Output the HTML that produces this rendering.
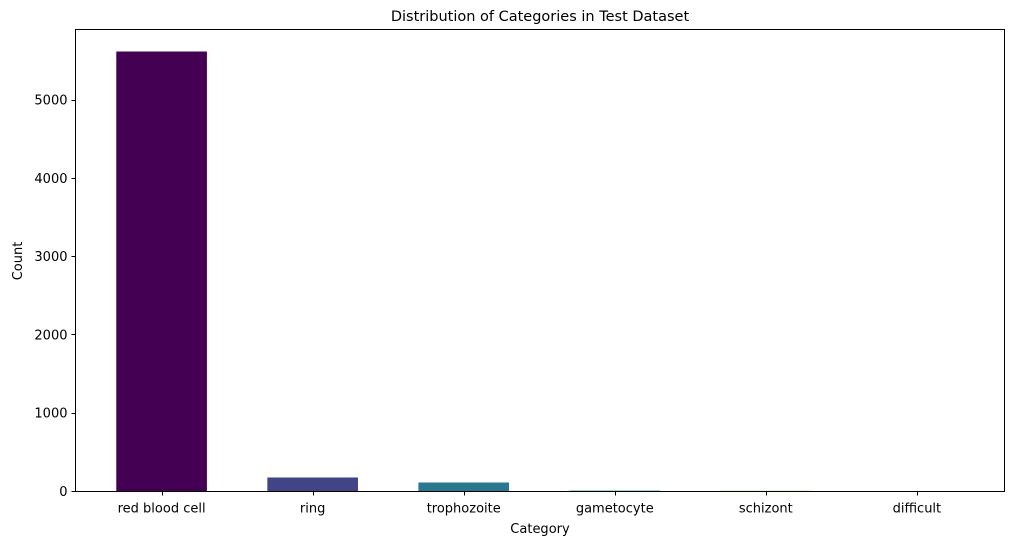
<!DOCTYPE html>
<html><head><meta charset="utf-8"><style>
body{margin:0;background:#fff;}
svg text{font-family:"DejaVu Sans","Liberation Sans",sans-serif;font-size:13px;fill:#000;}
</style></head><body>
<svg id="chart" width="1014" height="545" viewBox="0 0 1014 545" xmlns="http://www.w3.org/2000/svg">
<text x="540" y="21" text-anchor="middle" style="font-size:14.5px">Distribution of Categories in Test Dataset</text>
<g id="bars"></g>
<g id="axes"></g>
<text x="540" y="533" text-anchor="middle">Category</text>
<text transform="translate(22,261) rotate(-90)" text-anchor="middle">Count</text>
</svg>
<script>
const categories = ["red blood cell","ring","trophozoite","gametocyte","schizont","difficult"];
const counts = [5622,179,115,12,9,6];
const colors = ["#440154","#414487","#2a788e","#22a884","#7ad151","#fde725"];
const yTicks = [0,1000,2000,3000,4000,5000];
const L=75.5,R=1004.5,T=29.5,B=491.5;
const xMin=-0.57,xMax=5.58,yMax=Math.max(...counts)*1.05;
const xs=v=>L+(v-xMin)/(xMax-xMin)*(R-L);
const ys=v=>B-v/yMax*(B-T);
const NS="http://www.w3.org/2000/svg";
const bars=document.getElementById('bars'),axes=document.getElementById('axes');
function mk(tag,attrs,parent){const e=document.createElementNS(NS,tag);for(const k in attrs)e.setAttribute(k,attrs[k]);parent.appendChild(e);return e;}
categories.forEach((c,i)=>{
  const x0=xs(i-0.3),x1=xs(i+0.3),y=ys(counts[i]);
  const r=mk('rect',{x:x0,y:y,width:x1-x0,height:B-y,fill:colors[i]},bars);
  
  
  const tx=Math.round(xs(i))+0.5;
  const t=mk('line',{x1:tx,x2:tx,y1:B,y2:B+4,stroke:'#000','stroke-width':1},axes);
  
  
  const l=mk('text',{x:xs(i),y:B+21,'text-anchor':'middle'},axes);
  l.textContent=c;
  
  
});
yTicks.forEach(v=>{
  const ty=Math.round(ys(v)-0.5)+0.5;
  const t=mk('line',{x1:L-4,x2:L,y1:ty,y2:ty,stroke:'#000','stroke-width':1},axes);
  
  
  const l=mk('text',{x:L-8,y:ys(v)+4.5,'text-anchor':'end'},axes);
  l.textContent=v;
  
  
});
const f=mk('rect',{x:L,y:T,width:R-L,height:B-T,fill:'none',stroke:'#000','stroke-width':1},axes);


</script>
</body></html>
